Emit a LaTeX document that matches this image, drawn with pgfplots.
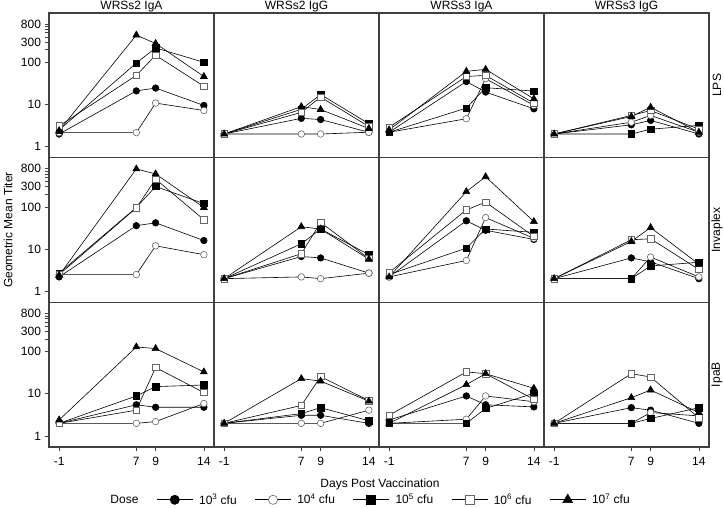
\documentclass[border=0pt]{standalone}
\usepackage{pgfplots}
\usepackage{pgfplotstable}
\pgfplotsset{compat=1.18}
\usepgfplotslibrary{groupplots}
\usepackage{fontspec}
\setmainfont{Liberation Sans}

% one table per panel: day, then doses 10^3 ... 10^7
% LPS
\pgfplotstableread{
day d3 d4 d5 d6 d7
-1 2 2.15 2.5 3.1 2.4
7 21 2.15 96 49 440
9 24.5 10.8 219 147 279
14 9.5 7.2 100 27 46
}\lpsA
\pgfplotstableread{
day d3 d4 d5 d6 d7
-1 2 2 2 2 2
7 4.7 2 7.7 6.5 8.9
9 4.4 2 17.3 15 7.6
14 2.2 2.2 3.5 3.0 2.7
}\lpsB
\pgfplotstableread{
day d3 d4 d5 d6 d7
-1 2.2 2.2 2.2 2.9 2.5
7 35 4.6 8.2 46 61
9 19.7 41 25 49 68
14 7.9 9.5 20.8 10.8 13.6
}\lpsC
\pgfplotstableread{
day d3 d4 d5 d6 d7
-1 2 2 2 2 2
7 3.3 3.8 2 5.5 5.2
9 4.2 5.5 2.6 7.2 8.6
14 2 2.2 3.2 2.6 2.2
}\lpsD
% Invaplex
\pgfplotstableread{
day d3 d4 d5 d6 d7
-1 2.2 2.5 2.7 2.5 2.4
7 36 2.5 97 95 795
9 42 12 305 455 605
14 16 7.4 120 50 97
}\invA
\pgfplotstableread{
day d3 d4 d5 d6 d7
-1 2 2 2 2 2
7 6.7 2.2 13.4 7.8 34
9 6.2 2.0 30 43 30
14 2.7 2.7 7.4 6 5.8
}\invB
\pgfplotstableread{
day d3 d4 d5 d6 d7
-1 2.2 2.2 2.5 2.8 2.2
7 47 5.4 10.6 85 230
9 28 56 30 130 520
14 17 18 25 20 45
}\invC
\pgfplotstableread{
day d3 d4 d5 d6 d7
-1 2 2 2 2 2
7 6.2 2 2 16.7 15.2
9 5 6.5 4 17.6 32.5
14 2 2.2 4.9 3.3 4.4
}\invD
% IpaB
\pgfplotstableread{
day d3 d4 d5 d6 d7
-1 2 2 2 2 2.4
7 5.5 2.0 8.9 4.1 129
9 4.8 2.2 14.8 42 118
14 4.8 5.9 16.2 10.7 33
}\ipaA
\pgfplotstableread{
day d3 d4 d5 d6 d7
-1 2 2 2 2 2
7 3.1 2 3.4 5.3 22.9
9 3.1 2 4.7 25.6 20
14 2.0 4.1 2.3 6.9 6.7
}\ipaB
\pgfplotstableread{
day d3 d4 d5 d6 d7
-1 2.4 2 2 3.1 2
7 8.9 2.5 2 33 16.5
9 5.5 8.9 4.5 30 30
14 4.9 6.5 10.3 7.4 13.5
}\ipaC
\pgfplotstableread{
day d3 d4 d5 d6 d7
-1 2 2 2 2 2
7 4.7 2 2 30 8.1
9 4.1 3.6 2.6 25 12.3
14 2 3 4.7 2.7 3.6
}\ipaD

\tikzset{
  s3/.style={black, line width=0.6pt, mark=*, mark size=3.3pt, mark options={solid, fill=black}},
  s4/.style={black, line width=0.6pt, mark=*, mark size=3.3pt, mark options={solid, draw=black!60, fill=white}},
  s5/.style={black, line width=0.6pt, mark=square*, mark size=3.2pt, mark options={solid, fill=black}},
  s6/.style={black, line width=0.6pt, mark=square*, mark size=3.2pt, mark options={solid, draw=black!60, fill=white}},
  s7/.style={black, line width=0.6pt, mark=triangle*, mark size=4pt, mark options={solid, fill=black}},
}

\newcommand{\panel}[1]{%
  \addplot[s3, forget plot] table[x=day, y=d3]{#1};
  \addplot[s4, forget plot] table[x=day, y=d4]{#1};
  \addplot[s5, forget plot] table[x=day, y=d5]{#1};
  \addplot[s6, forget plot] table[x=day, y=d6]{#1};
  \addplot[s7, forget plot] table[x=day, y=d7]{#1};
}

\newcommand{\bigfont}{\fontsize{12}{14}\selectfont}

\pgfplotsset{
  noy/.style={ymajorticks=false, yminorticks=false, minor y tick style={draw=none}},
}

\begin{document}
\begin{tikzpicture}[font=\bigfont]
\begin{groupplot}[
  group style={group name=my plots, group size=4 by 3, horizontal sep=0pt, vertical sep=0pt},
  scale only axis, width=165pt, height=144.67pt,
  xmin=-2.05, xmax=15.05,
  ymode=log, ymin=0.55, ymax=1470,
  xtick={-1,7,9,14}, xticklabels={-1,7,9,14},
  ytick={1,10,100,300,800}, yticklabels={1,10,100,300,800},
  minor ytick={200,400,500,600,700},
  tick align=outside, tick pos=left,
  major tick length=4.5pt, minor tick length=4.5pt,
  every tick/.style={black!75, line width=0.7pt},
  axis line style={draw=black!75, line width=1.2pt},
  xmajorticks=false,
  tick label style={font=\bigfont},
  xticklabel style={yshift=-2pt},
  every axis title shift=0pt,
  title style={at={(0.5,1)}, anchor=base, yshift=3.5pt, inner sep=0pt, font=\bigfont},
  legend style={font=\bigfont},
  clip=false,
]
\nextgroupplot[title={WRSs2 IgA}]
\panel{\lpsA}
\nextgroupplot[title={WRSs2 IgG}, noy]
\panel{\lpsB}
\nextgroupplot[title={WRSs3 IgA}, noy]
\panel{\lpsC}
\nextgroupplot[title={WRSs3 IgG}, noy]
\panel{\lpsD}

\nextgroupplot
\panel{\invA}
\nextgroupplot[noy]
\panel{\invB}
\nextgroupplot[noy]
\panel{\invC}
\nextgroupplot[noy]
\panel{\invD}

\nextgroupplot[xmajorticks=true,
  legend style={at={(0.335,-0.365)}, anchor=west, draw=none, fill=none, inner sep=0pt,
    legend columns=-1,
    /tikz/every odd column/.append style={column sep=4pt},
    /tikz/every even column/.append style={column sep=16pt}},
  legend image code/.code={\draw[mark repeat=2, mark phase=2, #1, every mark/.append style={scale=1.4}] plot coordinates {(0pt,0pt) (18pt,0pt) (36pt,0pt)};}]
\panel{\ipaA}
\addlegendimage{empty legend}\addlegendentry{Dose}
\addlegendimage{s3}\addlegendentry{10\textsuperscript{3} cfu}
\addlegendimage{s4}\addlegendentry{10\textsuperscript{4} cfu}
\addlegendimage{s5}\addlegendentry{10\textsuperscript{5} cfu}
\addlegendimage{s6}\addlegendentry{10\textsuperscript{6} cfu}
\addlegendimage{s7}\addlegendentry{10\textsuperscript{7} cfu}
\nextgroupplot[xmajorticks=true, noy]
\panel{\ipaB}
\nextgroupplot[xmajorticks=true, noy]
\panel{\ipaC}
\nextgroupplot[xmajorticks=true, noy]
\panel{\ipaD}
\end{groupplot}

\node[rotate=90, font=\bigfont] at ([xshift=8pt]my plots c4r1.east) {LPS};
\node[rotate=90, font=\bigfont] at ([xshift=8pt]my plots c4r2.east) {Invaplex};
\node[rotate=90, font=\bigfont] at ([xshift=8pt]my plots c4r3.east) {IpaB};
\node[rotate=90, font=\bigfont] at ([xshift=-41pt]my plots c1r2.west) {Geometric Mean Titer};
\node[font=\bigfont] at ([shift={(331pt,-37pt)}]my plots c1r3.south west) {Days Post Vaccination};

\pgfresetboundingbox
\path[use as bounding box] ([shift={(-49pt,13pt)}]my plots c1r1.north west) rectangle ++(724pt,-507pt);
\end{tikzpicture}
\end{document}
